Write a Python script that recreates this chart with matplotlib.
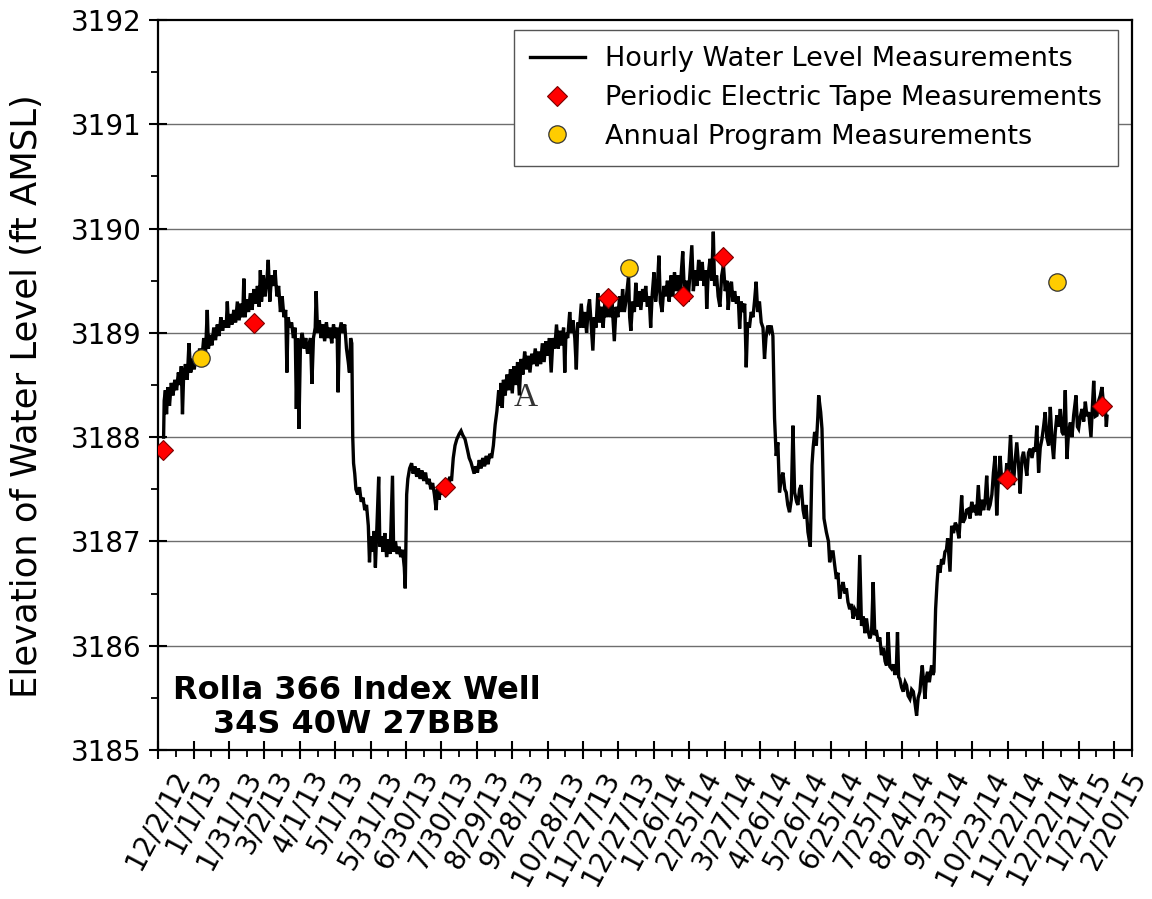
import matplotlib
matplotlib.use("Agg")
import matplotlib.pyplot as plt
import datetime as dt

plt.rcParams['font.family'] = ['DejaVu Sans']

# ---------------- data ----------------
START = dt.datetime(2012, 12, 2)
TICK_STEP_DAYS = 30
N_TICKS = 28
X_START_DAY, X_END_DAY = -0.5, 818
Y_MIN, Y_MAX = 3185, 3192

title_lines = ["Rolla 366 Index Well", "34S 40W 27BBB"]
y_label = "Elevation of Water Level (ft AMSL)"
series_names = ["Hourly Water Level Measurements",
                "Periodic Electric Tape Measurements",
                "Annual Program Measurements"]

# periodic electric tape measurements (days since 12/2/12, ft AMSL)
tape_days = [4, 81, 243, 381, 445, 479, 719, 800]
tape_levels = [3187.88, 3189.09, 3187.52, 3189.33, 3189.35, 3189.73, 3187.60, 3188.30]

# annual program measurements
annual_days = [36, 399, 762]
annual_levels = [3188.76, 3189.62, 3189.49]

# hourly transducer record (day since 12/2/12, ft AMSL)
hourly_winter_2013 = [
    (4.5, 3188.00), (5.0, 3188.35), (6.0, 3188.45), (7.0, 3188.22), (8.0, 3188.48),
    (9.5, 3188.30), (11, 3188.52), (12.5, 3188.40), (14, 3188.55), (15.5, 3188.45),
    (17, 3188.62), (18.5, 3188.50), (19.5, 3188.68), (20.5, 3188.22), (21.5, 3188.60),
    (23, 3188.70), (24.5, 3188.55), (26, 3188.90), (27.5, 3188.62), (29, 3188.75),
    (30.5, 3188.65), (32, 3188.80), (33.5, 3188.70), (35, 3188.85), (37, 3188.76),
    (38.5, 3188.95), (40, 3188.80), (41.5, 3189.22), (42.5, 3188.85), (44, 3188.98),
    (45.5, 3188.88), (47, 3189.05), (48.5, 3188.93), (50, 3189.08), (51.5, 3188.97),
    (53, 3189.15), (54.5, 3189.02), (56, 3189.12), (57.5, 3189.05), (58.5, 3189.30),
    (59.5, 3189.05), (61, 3189.18), (62.5, 3189.08), (64, 3189.22), (65.5, 3189.10),
    (67, 3189.30), (68.5, 3189.12), (70, 3189.28), (71.5, 3189.15), (72.5, 3189.52),
    (73.5, 3189.15), (75, 3189.32), (76.5, 3189.20), (78, 3189.38), (79.5, 3189.22),
    (81, 3189.42), (82.5, 3189.28), (84, 3189.45), (85.5, 3189.25), (86.5, 3189.60),
    (87.5, 3189.30), (89, 3189.55), (90.5, 3189.35), (92, 3189.50), (93.2, 3189.70),
    (94.5, 3189.30), (96, 3189.55), (97.5, 3189.45), (99, 3189.60), (100.5, 3189.35),
    (102, 3189.45), (103.5, 3189.20), (105, 3189.35), (106.5, 3189.15), (108, 3189.22),
    (109, 3188.62), (110, 3189.15), (111.5, 3189.05), (113, 3189.10), (114.5, 3188.95),
    (116, 3189.05), (117, 3188.27), (118, 3188.95), (119.2, 3188.08), (120.5, 3188.90),
    (122, 3189.00), (123.5, 3188.85), (125, 3188.95), (126.5, 3188.80), (128, 3188.90),
    (129, 3188.95), (130.2, 3188.51), (131.5, 3188.95), (133, 3189.05), (133.8, 3189.40),
    (135, 3189.00), (136.5, 3189.12), (138, 3188.95), (139.5, 3189.08), (141, 3188.92),
    (142.5, 3189.10), (144, 3188.95), (145.5, 3189.05), (147, 3188.90), (148.5, 3189.08),
    (150, 3188.95), (151.5, 3189.05), (152.4, 3188.43), (153.5, 3189.00), (155, 3189.10),
    (156.5, 3189.00), (158, 3189.08), (159.5, 3188.85), (161, 3188.72), (162, 3188.62),
    (163, 3188.95), (164, 3188.90),
]

hourly_summer_2013 = [
    (164.8, 3188.00), (165.5, 3187.75), (166.5, 3187.65), (167.5, 3187.50), (169, 3187.45),
    (170.5, 3187.52), (172, 3187.38), (173.5, 3187.42), (175, 3187.30), (176.5, 3187.35),
    (178, 3187.15), (179, 3186.80), (180, 3187.05), (181.5, 3186.90), (183, 3187.10),
    (184, 3186.75), (185, 3187.05), (186.8, 3187.62), (187.8, 3186.95), (189, 3187.05),
    (190.5, 3186.90), (192, 3187.08), (193.5, 3186.85), (195, 3187.02), (196.5, 3186.88),
    (198.5, 3187.63), (199.5, 3186.90), (201, 3187.00), (202.5, 3186.88), (204, 3186.95),
    (205.5, 3186.85), (207, 3186.92), (208.5, 3186.75), (209.3, 3186.55), (210.5, 3187.45),
    (211.5, 3187.60), (213, 3187.70), (214.7, 3187.75), (216, 3187.65), (217.5, 3187.72),
    (219, 3187.62), (220.5, 3187.70), (222, 3187.60), (223.5, 3187.68), (225, 3187.58),
    (226.5, 3187.66), (228, 3187.55), (229.5, 3187.60), (231, 3187.50), (232.5, 3187.56),
    (234, 3187.45), (235.5, 3187.30), (236.5, 3187.50), (238, 3187.40), (239.5, 3187.55),
    (241, 3187.45), (242.5, 3187.52), (244, 3187.60), (245.5, 3187.50), (247, 3187.62),
    (248.5, 3187.58), (250, 3187.80), (251.5, 3187.92), (253, 3187.98), (255, 3188.03),
    (256.6, 3188.06), (258, 3188.02), (260, 3187.98), (262, 3187.88), (263.5, 3187.80),
    (265, 3187.76), (266.5, 3187.70), (267.7, 3187.65), (269, 3187.72), (270.5, 3187.66),
    (272, 3187.78), (273.5, 3187.70), (275, 3187.80), (276.5, 3187.72), (278, 3187.82),
    (279.5, 3187.74), (281, 3187.84), (282.5, 3187.80), (284, 3187.92),
]

hourly_recovery_2013_14 = [
    (285.5, 3188.12), (287, 3188.25), (288.5, 3188.45), (289.5, 3188.30), (290.5, 3188.52),
    (291.5, 3188.28), (292.5, 3188.55), (294, 3188.40), (295.5, 3188.60), (297, 3188.45),
    (298.5, 3188.65), (300, 3188.42), (301.5, 3188.68), (303, 3188.50), (304.5, 3188.72),
    (306, 3188.40), (307.5, 3188.75), (309, 3188.60), (310.5, 3188.82), (312, 3188.65),
    (313.5, 3188.78), (315, 3188.62), (316.5, 3188.80), (318, 3188.70), (319.5, 3188.85),
    (321, 3188.68), (322.5, 3188.82), (324, 3188.70), (325.5, 3188.90), (327, 3188.72),
    (328.5, 3188.92), (330, 3188.78), (331.5, 3188.95), (333, 3188.62), (334.5, 3188.95),
    (336, 3188.85), (337.5, 3189.08), (339, 3188.85), (340.5, 3189.02), (342, 3188.88),
    (343.5, 3189.05), (344.5, 3188.62), (345.5, 3189.00), (347, 3188.95), (348.7, 3189.20),
    (350, 3189.00), (351.5, 3189.12), (353, 3188.95), (354.3, 3188.65), (355.5, 3189.10),
    (357, 3189.05), (358.5, 3189.28), (360, 3189.05), (361.5, 3189.20), (363, 3189.00),
    (364.5, 3189.25), (365.5, 3189.32), (367, 3189.05), (368.3, 3188.83), (369.5, 3189.15),
    (371, 3189.05), (372.5, 3189.38), (374, 3189.10), (375.5, 3189.25), (377, 3189.05),
    (378.5, 3189.30), (380, 3189.15), (381.5, 3189.35), (383, 3189.15), (384.5, 3189.30),
    (386.5, 3188.92), (388, 3189.25), (389.5, 3189.15), (391, 3189.35), (392.5, 3189.20),
    (393.5, 3189.42), (395, 3189.20), (396.3, 3189.30), (398.6, 3189.55), (399.5, 3189.15),
    (400.5, 3189.02), (402, 3189.30), (403.5, 3189.20), (404.7, 3189.48), (406, 3189.25),
    (407.5, 3189.40), (409, 3189.22), (410.5, 3189.42), (412, 3189.30), (413.1, 3189.45),
    (414.5, 3189.25), (416, 3189.35), (417.3, 3189.05), (418.5, 3189.35), (420.1, 3189.58),
    (421.5, 3189.30), (423, 3189.45), (424.3, 3189.74), (425.5, 3189.30), (427, 3189.20),
    (428.5, 3189.45), (430, 3189.35), (431.5, 3189.50), (433, 3189.30), (434.5, 3189.55),
    (436, 3189.35), (437.5, 3189.58), (439, 3189.40), (440.5, 3189.55), (442, 3189.35),
    (443.5, 3189.62), (444.5, 3189.78), (446, 3189.35), (447.5, 3189.50), (449, 3189.30),
    (450.5, 3189.55), (452.2, 3189.84), (453.5, 3189.40), (455, 3189.60), (456.5, 3189.45),
    (458, 3189.70), (459.5, 3189.50), (461, 3189.68), (462.5, 3189.45), (464, 3189.60),
    (464.8, 3189.23), (466, 3189.55), (467.6, 3189.71), (469, 3189.50), (470.4, 3189.97),
    (471.5, 3189.45), (473.2, 3189.55), (474.5, 3189.35), (476, 3189.25), (477.5, 3189.55),
    (479, 3189.65), (480.5, 3189.40), (482, 3189.50), (483, 3189.22), (484.5, 3189.45),
    (485.8, 3189.49), (487, 3189.30), (488.5, 3189.40), (490, 3189.28), (491.5, 3189.35),
    (492.7, 3189.04), (494, 3189.30), (495.5, 3189.20), (497, 3189.28), (498.3, 3188.67),
    (499.5, 3189.10), (501, 3189.05), (502.5, 3189.20), (504, 3189.15), (505.3, 3189.30),
    (506.7, 3189.49), (508, 3189.20), (509.5, 3189.30), (511, 3189.10), (512.5, 3189.05),
    (513.8, 3188.75), (515, 3188.95), (516.6, 3189.07), (518, 3189.02), (519.4, 3189.07),
    (520.9, 3188.97),
]

hourly_summer_2014 = [
    (522.3, 3188.18), (523.7, 3187.82), (525.1, 3187.95), (526.5, 3187.47), (528, 3187.60),
    (529.4, 3187.66), (531, 3187.50), (532.2, 3187.47), (533.5, 3187.35), (535, 3187.28),
    (536.5, 3187.40), (537.9, 3188.11), (539.3, 3187.47), (541, 3187.38), (542.1, 3187.35),
    (543.5, 3187.50), (544.9, 3187.54), (546.5, 3187.30), (547.8, 3187.22), (549, 3187.35),
    (550.6, 3187.09), (552.6, 3186.95), (554, 3187.73), (555, 3187.90), (556.3, 3188.05),
    (557.7, 3187.92), (559, 3188.20), (559.7, 3188.40), (561.4, 3188.24), (562.5, 3188.08),
    (563.5, 3187.60), (564.2, 3187.22), (566.2, 3187.09), (568, 3187.00), (569, 3186.80),
    (570.5, 3186.90), (571.9, 3186.90), (573.5, 3186.75), (574.7, 3186.64), (576, 3186.70),
    (577.5, 3186.45), (579, 3186.55), (580.4, 3186.61), (582, 3186.50), (583.2, 3186.55),
    (584.5, 3186.42), (586, 3186.35), (587.5, 3186.40), (588.9, 3186.26), (590.3, 3186.35),
    (591.7, 3186.32), (593, 3186.25), (594.5, 3186.87), (596, 3186.19), (597.5, 3186.28),
    (599, 3186.12), (600.2, 3186.26), (601.5, 3186.15), (603, 3186.07), (604.5, 3186.12),
    (605.9, 3186.61), (607.3, 3186.10), (608.5, 3186.15), (610.1, 3186.04), (611.5, 3186.08),
    (612.9, 3185.91), (614.5, 3185.98), (616, 3185.85), (617.2, 3185.81), (618.6, 3186.13),
    (620, 3185.80), (621.4, 3185.78), (623, 3185.82), (624.3, 3185.72), (625.5, 3185.78),
    (626.5, 3186.13), (627.5, 3185.70), (628.5, 3185.68), (630, 3185.60), (631.4, 3185.56),
    (633, 3185.65), (634.2, 3185.62), (635.5, 3185.52), (637, 3185.49), (638.5, 3185.58),
    (639.9, 3185.56), (641.3, 3185.45), (642.7, 3185.33), (644, 3185.50), (645.5, 3185.56),
    (646.5, 3185.70), (647.5, 3185.81), (649, 3185.60), (649.8, 3185.49), (651, 3185.70),
    (652, 3185.75), (653.5, 3185.65), (655.4, 3185.81), (656.5, 3185.72), (657.4, 3185.75),
]

hourly_recovery_2014_15 = [
    (658.8, 3186.35), (660, 3186.60), (661.1, 3186.77), (662.5, 3186.70), (663.9, 3186.83),
    (665.3, 3186.78), (666.7, 3186.90), (668, 3186.92), (669, 3187.03), (671, 3186.71),
    (672.4, 3187.15), (674, 3187.08), (675.5, 3187.18), (676.7, 3187.15), (678.6, 3187.03),
    (680.9, 3187.44), (682, 3187.18), (683.7, 3187.22), (685, 3187.30), (686.5, 3187.31),
    (688, 3187.22), (689.4, 3187.38), (691, 3187.28), (692.2, 3187.35), (693.5, 3187.25),
    (695, 3187.54), (696.5, 3187.25), (698, 3187.40), (699.5, 3187.30), (700.7, 3187.38),
    (702.1, 3187.63), (703.5, 3187.30), (705, 3187.35), (706.5, 3187.45), (707.8, 3187.66),
    (709.2, 3187.82), (710.6, 3187.25), (712, 3187.60), (713.5, 3187.82), (715, 3187.55),
    (716.3, 3187.63), (717.7, 3187.55), (719.1, 3187.75), (720.5, 3187.65), (722.3, 3188.02),
    (723.5, 3187.70), (724.8, 3187.54), (726, 3187.75), (727.6, 3187.95), (729, 3187.75),
    (730.5, 3187.46), (732, 3187.80), (733.3, 3187.86), (734.7, 3187.75), (736.1, 3187.63),
    (737.5, 3187.85), (739, 3187.89), (740.5, 3187.80), (742, 3187.90), (743.2, 3187.86),
    (744.6, 3188.11), (746.1, 3187.66), (747.5, 3187.90), (748.9, 3187.98), (750.3, 3188.10),
    (751.7, 3188.24), (753, 3188.00), (754.6, 3187.92), (756, 3188.29), (757.5, 3187.95),
    (758.8, 3187.79), (760.2, 3188.05), (761.6, 3188.21), (763, 3188.10), (764.5, 3188.27),
    (765.9, 3188.05), (767.3, 3188.02), (768.7, 3188.45), (770.1, 3187.79), (771.5, 3188.05),
    (773, 3188.14), (774.4, 3188.00), (775.8, 3188.21), (777.8, 3188.40), (779, 3188.10),
    (780, 3188.08), (781.5, 3188.20), (782.9, 3188.27), (784.3, 3188.15), (785.7, 3188.34),
    (787, 3188.20), (788.5, 3188.24), (790.5, 3188.00), (791.5, 3188.25), (792.8, 3188.54),
    (794.2, 3188.20), (795.6, 3188.21), (797, 3188.35), (798.4, 3188.40), (799.8, 3188.48),
    (801.2, 3188.30), (802.7, 3188.27), (803.5, 3188.10), (804.1, 3188.20),
]

# stray glyph present on the original figure
stray_mark = ("A", 311, 3188.38)

# ---------------- helpers ----------------
def to_date(d):
    return START + dt.timedelta(days=d)

hourly = (hourly_winter_2013 + hourly_summer_2013 + hourly_recovery_2013_14
          + hourly_summer_2014 + hourly_recovery_2014_15)
h_x = [to_date(d) for d, _ in hourly]
h_y = [v for _, v in hourly]

tick_dates = [to_date(TICK_STEP_DAYS * i) for i in range(N_TICKS)]
tick_labels = [f"{t.month}/{t.day}/{t.year % 100}" for t in tick_dates]
minor_dates = [to_date(TICK_STEP_DAYS * i + TICK_STEP_DAYS / 2) for i in range(N_TICKS)]

# ---------------- figure ----------------
fig = plt.figure(figsize=(11.52, 8.99), dpi=100)
ax = fig.add_axes([157.7 / 1152, 149 / 899, 974 / 1152, 730 / 899])

for yv in range(Y_MIN + 1, Y_MAX):
    ax.axhline(yv, color='#6e6e6e', lw=1.0, zorder=1)

ax.plot(h_x, h_y, color='black', lw=2.4, zorder=3, solid_joinstyle='miter',
        label=series_names[0])
ax.plot([to_date(d) for d in tape_days], tape_levels, linestyle='none',
        marker='D', markersize=10, markerfacecolor='#ff0000',
        markeredgecolor='#7a0000', markeredgewidth=0.8, zorder=5,
        label=series_names[1])
ax.plot([to_date(d) for d in annual_days], annual_levels, linestyle='none',
        marker='o', markersize=12.5, markerfacecolor='#ffcc00',
        markeredgecolor='#333333', markeredgewidth=0.9, zorder=5,
        label=series_names[2])

ax.text(to_date(stray_mark[1]), stray_mark[2], stray_mark[0],
        family=['Liberation Serif', 'DejaVu Serif'], fontsize=24,
        color='#333333', ha='center', va='center', zorder=2)

ax.set_xlim(to_date(X_START_DAY), to_date(X_END_DAY))
ax.set_ylim(Y_MIN, Y_MAX)

ax.set_xticks(tick_dates)
ax.set_xticklabels(tick_labels, rotation=62, ha='center', va='top', fontsize=20)
ax.set_xticks(minor_dates, minor=True)
ax.set_yticks(range(Y_MIN, Y_MAX + 1))
ax.set_yticks([y + 0.5 for y in range(Y_MIN, Y_MAX)], minor=True)
ax.set_yticklabels([str(y) for y in range(Y_MIN, Y_MAX + 1)], fontsize=20)

ax.tick_params(axis='both', which='major', direction='inout', length=13,
               width=1.5, color='black')
ax.tick_params(axis='x', which='major', pad=5)
ax.tick_params(axis='y', which='major', pad=5)
ax.tick_params(axis='both', which='minor', direction='out', length=5,
               width=1.3, color='black')

for s in ax.spines.values():
    s.set_linewidth(1.6)
    s.set_color('black')

ax.set_ylabel(y_label, fontsize=25.5)
ax.yaxis.set_label_coords(-0.117, 0.485)

leg = ax.legend(loc='upper right', bbox_to_anchor=(0.986, 0.986),
                borderaxespad=0, fontsize=19.5, frameon=True, fancybox=False,
                edgecolor='#555555', framealpha=1, handlelength=2.0,
                handletextpad=0.75, labelspacing=0.47, borderpad=0.6)
leg.get_frame().set_linewidth(1.0)
leg.set_zorder(10)

ax.text(0.204, 0.058, "\n".join(title_lines), transform=ax.transAxes,
        fontsize=23, fontweight='bold', ha='center', va='center',
        linespacing=1.15, zorder=6)

fig.savefig("out.png", dpi=100)
